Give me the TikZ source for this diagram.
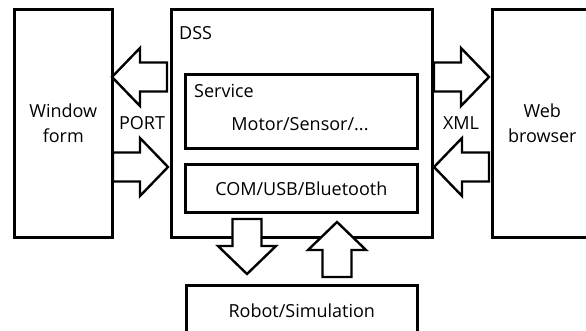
\documentclass[tikz,border=0pt]{standalone}
\usepackage{fontspec}
\setmainfont{Open Sans}
\begin{document}
\begin{tikzpicture}[x=1pt,y=-1pt,
  box/.style={draw=black,line width=2.6pt,fill=white,anchor=north west,inner sep=0pt,align=center,font=\fontsize{18}{24.5}\selectfont},
  lbl/.style={inner sep=0pt,font=\fontsize{18}{24.5}\selectfont},
  blk/.style={draw=black,line width=2.4pt,fill=white,line join=miter},
  fatarrow/.pic={\draw[blk] (0,-14.5) -- (27,-14.5) -- (27,-29) -- (55,0) -- (27,29) -- (27,14.5) -- (0,14.5) -- cycle;}]
\clip (0,0) rectangle (586,331);
\useasboundingbox (0,0) rectangle (586,331);
\fill[white] (0,0) rectangle (586,331);

% outer blocks
\node[box,minimum width=98,minimum height=228] (win) at (13,8) {Window\\form};
\node[box,minimum width=261,minimum height=228] (dss) at (170,8) {};
\node[box,minimum width=100,minimum height=228] (web) at (491,8) {Web\\browser};
\node[box,minimum width=231,minimum height=50] (robot) at (185,284) {Robot/Simulation};

% inner blocks of the DSS
\node[box,minimum width=232,minimum height=74] (svc) at (184,73) {};
\node[box,minimum width=232,minimum height=48] (com) at (184,163) {COM/USB/Bluetooth};

% labels
\node[lbl,anchor=west] (dsslbl) at (179,33) {DSS};
\node[lbl,anchor=west] (svclbl) at (194,91) {Service};
\node[lbl] (motor) at (300,124) {Motor/Sensor/...};
\node[lbl] (port) at (142,123) {PORT};
\node[lbl] (xml) at (461,123) {XML};

% block arrows between the blocks
\pic[rotate=180] at (167,77) {fatarrow};
\pic at (113,167) {fatarrow};
\pic at (434,77) {fatarrow};
\pic[rotate=180] at (489,167) {fatarrow};
\pic[rotate=-90] at (247,219) {fatarrow};
\pic[rotate=90] at (337,277) {fatarrow};
\end{tikzpicture}
\end{document}
